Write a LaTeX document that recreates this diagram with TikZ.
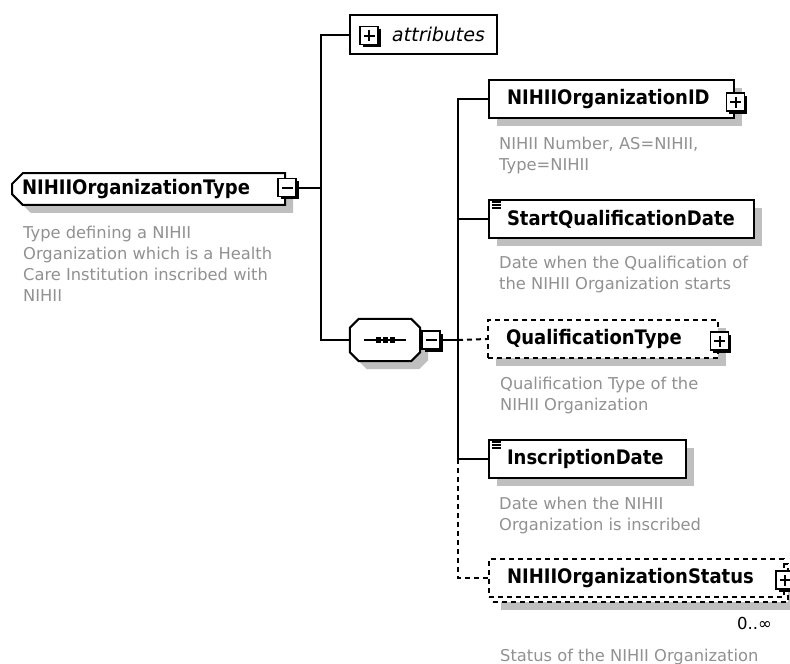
\documentclass[tikz,border=0pt]{standalone}
\usepackage{fontspec}
\usetikzlibrary{shapes.misc,shadows}
\newfontfamily\descfont{DejaVu Sans}
\newfontfamily\namefont{DejaVu Sans}[FakeStretch=0.9]
\newfontfamily\attrfont{DejaVu Sans}[FakeSlant=0.2]
\definecolor{descgray}{RGB}{145,145,145}

\begin{document}
\begin{tikzpicture}[x=1pt,y=-1pt,
    conn/.style={line width=2pt},
    dashconn/.style={line width=2pt,dash pattern=on 5pt off 4pt},
    grayshadow/.style={drop shadow={shadow xshift=8pt,shadow yshift=-8pt,fill=black!25,opacity=1}},
    box/.style={draw,fill=white,line width=2pt,minimum height=38pt,inner xsep=18pt,
      align=left,font=\namefont\bfseries\fontsize{20}{24}\selectfont},
    elem/.style={box,grayshadow},
    optelem/.style={elem,dash pattern=on 5pt off 4pt},
    desc/.style={anchor=north west,inner sep=0pt,align=left,text=descgray,
      font=\descfont\fontsize{16.3}{21}\selectfont},
    pmbox/.style={draw,fill=white,line width=1.6pt,minimum size=18pt,inner sep=0pt,
      general shadow={shadow xshift=2.5pt,shadow yshift=-2.5pt,fill=black}},
    minusbox/.style={pmbox,path picture={\draw[line width=2pt]
      ([xshift=-5.5pt]path picture bounding box.center) -- ([xshift=5.5pt]path picture bounding box.center);}},
    plusbox/.style={pmbox,path picture={\draw[line width=2pt]
      ([xshift=-5.5pt]path picture bounding box.center) -- ([xshift=5.5pt]path picture bounding box.center)
      ([yshift=-5.5pt]path picture bounding box.center) -- ([yshift=5.5pt]path picture bounding box.center);}}]
\path[use as bounding box,fill=white] (0,0) rectangle (790,664);

% complex type and its children
\node[elem,chamfered rectangle,chamfered rectangle corners={north west,south west},
  chamfered rectangle xsep=8pt,minimum height=30pt,inner xsep=2pt,text width=253pt] (type) at (148.5,189) {NIHIIOrganizationType};
\node[minusbox] (typeminus) at ([xshift=1pt,yshift=1.5pt]type.east) {};
\node[desc] (typedesc) at (23,225.6) {Type defining a NIHII\\Organization which is a Health\\Care Institution inscribed with\\NIHII};

\node[draw,fill=white,line width=1.6pt,minimum height=39pt,inner xsep=13pt,text width=121pt,align=right,
  font=\attrfont\fontsize{19}{23}\selectfont] (attr) at (423.5,34.5) {attributes};
\node[plusbox] (attrplus) at ([xshift=20pt,yshift=-1pt]attr.west) {};

\node[minimum width=70pt,minimum height=42pt,inner sep=0pt] (seq) at (385,340) {};
\draw[line width=2pt,fill=white,grayshadow] ([xshift=9pt]seq.north west) -- ([xshift=-9pt]seq.north east)
  -- ([yshift=-9pt]seq.north east) -- ([yshift=9pt]seq.south east) -- ([xshift=-9pt]seq.south east)
  -- ([xshift=9pt]seq.south west) -- ([yshift=9pt]seq.south west) -- ([yshift=-9pt]seq.north west) -- cycle;
\node[minusbox] (seqminus) at ([xshift=11pt]seq.east) {};
\draw[line width=2pt] ([xshift=-21pt]seq.center) -- ([xshift=21pt]seq.center);
\foreach \d in {-7,0,7}
  \fill ([xshift=\d pt]seq.center) +(-2.5,-3) rectangle +(2.5,3);

% sequence members
\node[elem,text width=209pt] (id) at (611.5,99) {NIHIIOrganizationID};
\node[plusbox] (idplus) at ([xshift=0.5pt,yshift=-3pt]id.east) {};
\node[desc] (iddesc) at (499,136.6) {NIHII Number, AS=NIHII,\\Type=NIHII};

\node[elem,text width=229pt] (start) at (621.5,219) {StartQualificationDate};
\foreach \k in {3,6,9}
  \draw[line width=1.3pt] ([xshift=4pt,yshift=-\k pt]start.north west) -- +(9,0);
\node[desc] (startdesc) at (499,255.6) {Date when the Qualification of\\the NIHII Organization starts};

\node[optelem,text width=194pt] (qual) at (603,339) {QualificationType};
\node[plusbox] (qualplus) at ([xshift=0.5pt,yshift=-2pt]qual.east) {};
\node[desc] (qualdesc) at (500,376.6) {Qualification Type of the\\NIHII Organization};

\node[elem,text width=161pt] (inscr) at (587.5,459) {InscriptionDate};
\foreach \k in {3,6,9}
  \draw[line width=1.3pt] ([xshift=4pt,yshift=-\k pt]inscr.north west) -- +(9,0);
\node[desc] (inscrdesc) at (499,496.6) {Date when the NIHII\\Organization is inscribed};

\node[optelem,text width=259pt] (statusback) at (640.5,583) {};
\node[box,dash pattern=on 5pt off 4pt,text width=259pt] (status) at (636.5,578) {NIHIIOrganizationStatus};
\node[plusbox] (statusplus) at ([yshift=-2pt]status.east) {};
\node[anchor=base east,inner sep=0pt,font=\descfont\fontsize{16.5}{20}\selectfont] (statusocc) at (772,629) {0..∞};
\node[desc] (statusdesc) at (500,648.6) {Status of the NIHII Organization};

% connectors
\coordinate (trunkA) at (321,0);
\coordinate (trunkB) at (458,0);
\draw[conn] (attr.west) -| (trunkA |- seq.west) -- (seq.west);
\draw[conn] (typeminus.east) -- (typeminus.east -| trunkA);
\draw[conn] (id.west) -| (trunkB |- inscr.west) -- (inscr.west);
\draw[conn] (start.west) -- (start.west -| trunkB);
\draw[conn] (seqminus.east) -- (seqminus.east -| trunkB);
\draw[dashconn] (seqminus.east -| trunkB) -- (qual.west);
\draw[dashconn] (trunkB |- inscr.west) |- (status.west);
\end{tikzpicture}
\end{document}
